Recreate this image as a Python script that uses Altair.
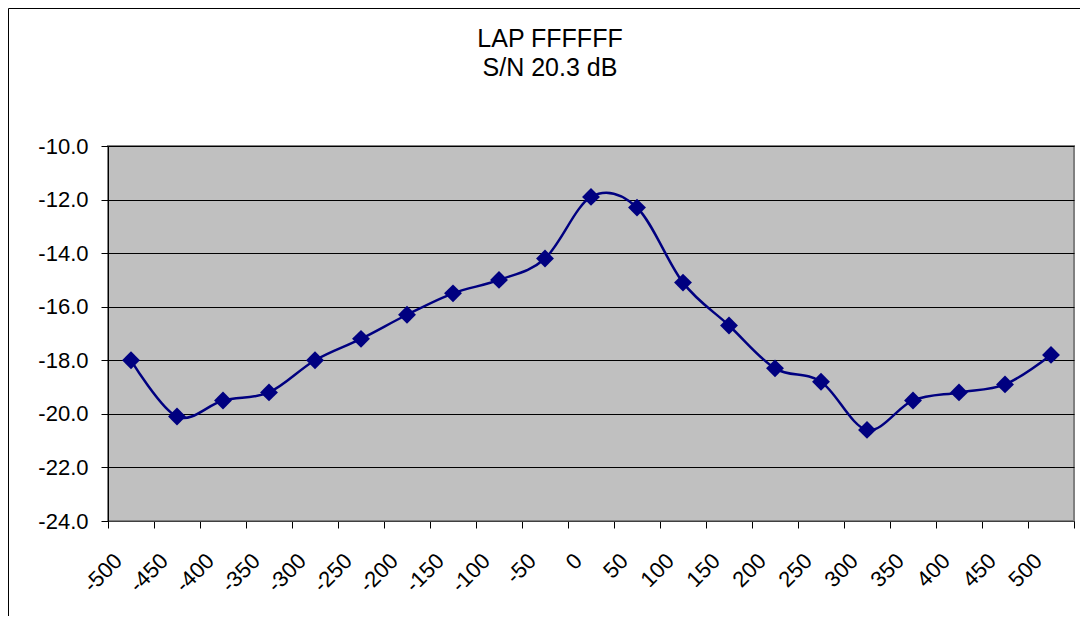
import altair as alt
import pandas as pd

# Data
offsets = [-500, -450, -400, -350, -300, -250, -200, -150, -100, -50, 0,
           50, 100, 150, 200, 250, 300, 350, 400, 450, 500]
values = [-18.0, -20.1, -19.5, -19.2, -18.0, -17.2, -16.3, -15.5, -15.0, -14.2,
          -11.9, -12.3, -15.1, -16.7, -18.3, -18.8, -20.6, -19.5, -19.2, -18.9, -17.8]
y_ticks = [-24, -22, -20, -18, -16, -14, -12, -10]
title_lines = ["LAP FFFFFF", "S/N 20.3 dB"]

labels = [str(v) for v in offsets]
df = pd.DataFrame({"offset": labels, "value": values})

FONT = "Liberation Sans"
NAVY = "#000080"

x_enc = alt.X(
    "offset:N",
    sort=labels,
    scale=alt.Scale(paddingInner=0, paddingOuter=0),
    axis=alt.Axis(
        title=None,
        labelAngle=315,
        labelAlign="right",
        labelBaseline="middle",
        labelPadding=29,
        labelOffset=-13,
        labelFontSize=22,
        labelFont=FONT,
        labelColor="black",
        tickBand="extent",
        tickSize=7,
        tickColor="black",
        domainColor="#404040",
        domainWidth=1,
        grid=False,
    ),
)
y_enc = alt.Y(
    "value:Q",
    scale=alt.Scale(domain=[-24, -10], nice=False, zero=False),
    axis=alt.Axis(
        title=None,
        values=y_ticks,
        labelExpr="datum.value < 0 ? '-' + format(-datum.value, '.1f') : format(datum.value, '.1f')",
        labelFontSize=22,
        labelFont=FONT,
        labelColor="black",
        labelPadding=13,
        tickSize=7,
        tickColor="black",
        domainColor="black",
        domainWidth=1,
        grid=True,
        gridColor="black",
        gridWidth=1,
    ),
)

base = alt.Chart(df).encode(x=x_enc, y=y_enc)
line = base.mark_line(
    interpolate="cardinal", tension=0, color=NAVY, strokeWidth=2.5
)
points = base.mark_point(
    shape="diamond", filled=True, size=320, color=NAVY, opacity=1
)

frame_df = pd.DataFrame({"k": [0]})
left_border = alt.Chart(frame_df).mark_rule(color="black", strokeWidth=1).encode(
    x=alt.value(-99.5), y=alt.value(-137.5), y2=alt.value(480)
)
top_border = alt.Chart(frame_df).mark_rule(color="black", strokeWidth=1).encode(
    x=alt.value(-99.5), x2=alt.value(1000), y=alt.value(-137.5)
)
title_df = pd.DataFrame({"t": ["\n".join(title_lines)]})
title = alt.Chart(title_df).mark_text(
    font=FONT, fontSize=25, color="black", align="center", baseline="top",
    lineBreak="\n", lineHeight=29,
).encode(text="t:N", x=alt.value(442), y=alt.value(-119))

chart = (
    alt.layer(line, points, left_border, top_border, title)
    .properties(
        width=966,
        height=375,
        autosize=alt.AutoSizeParams(type="none"),
        padding={"left": 100, "top": 138, "right": 6, "bottom": 95},
        background="white",
    )
    .configure_view(fill="#C0C0C0", stroke="#808080", strokeWidth=2)
)

chart.save("out.html", embed_options={"renderer": "svg", "actions": False})
